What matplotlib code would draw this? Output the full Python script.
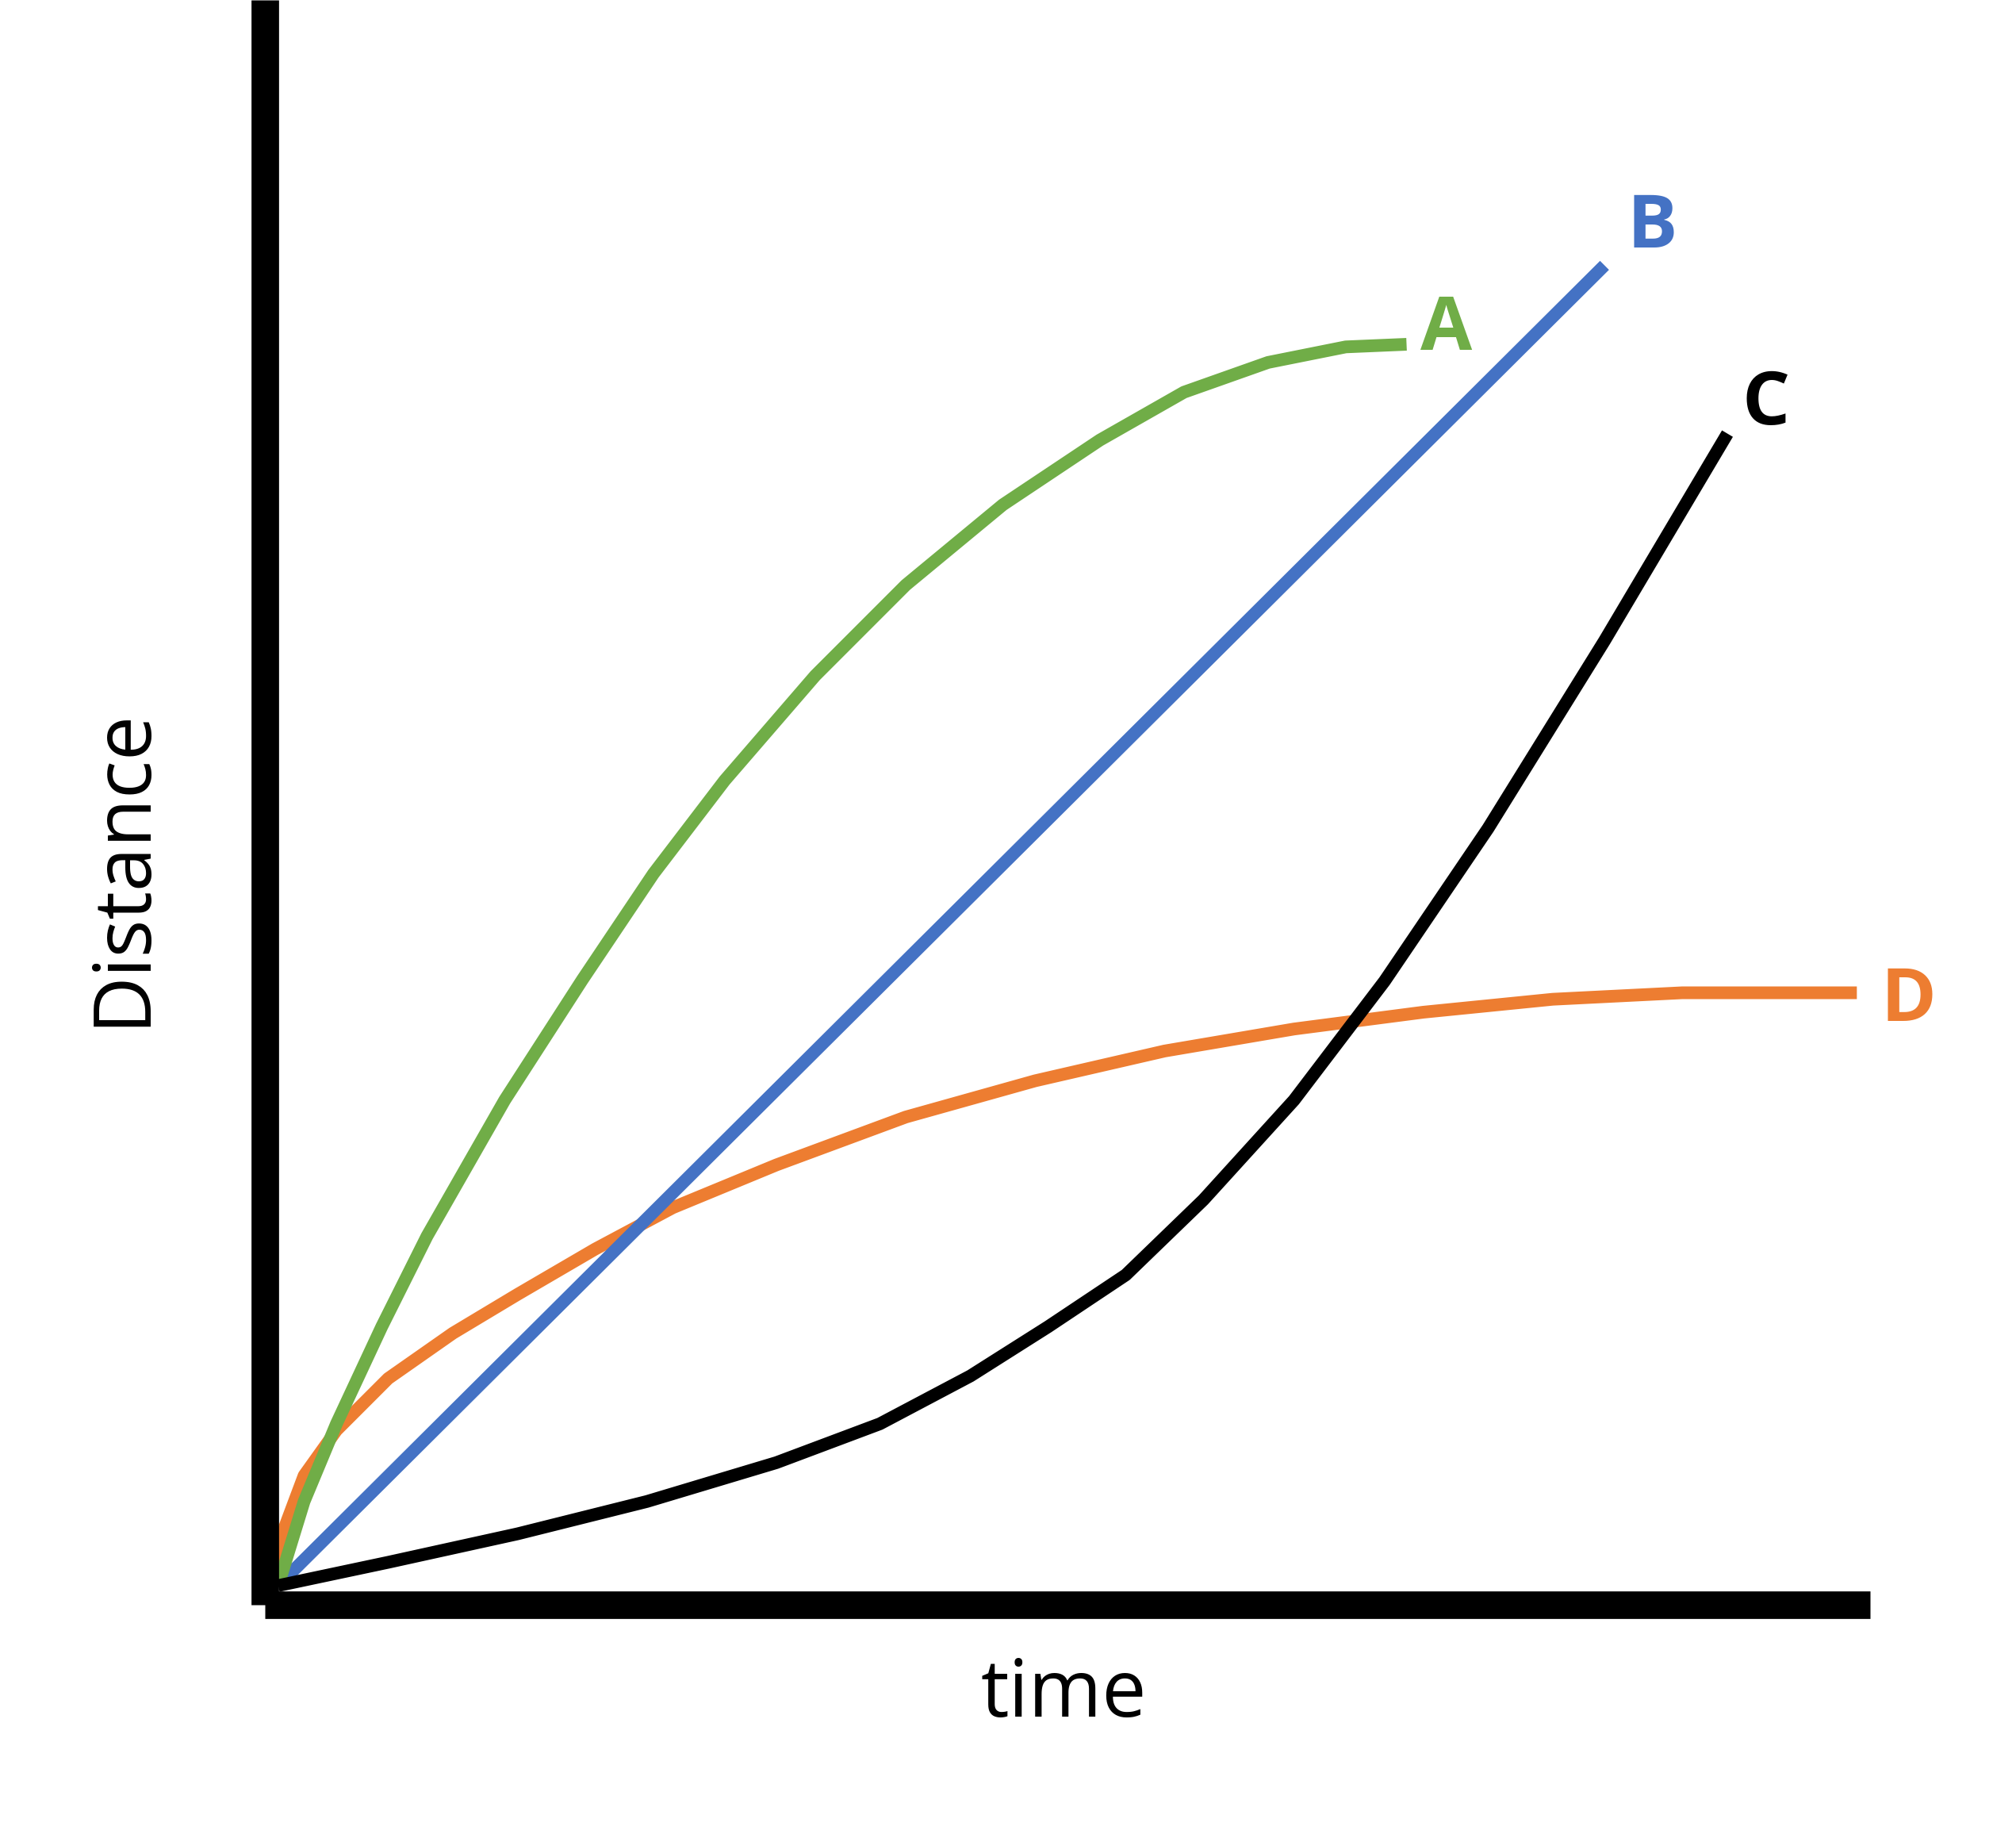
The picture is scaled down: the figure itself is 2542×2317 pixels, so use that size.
import matplotlib
matplotlib.use("Agg")
import matplotlib.pyplot as plt

a_x = [215, 235, 260, 295, 330, 390, 450, 505, 560, 630, 700, 775, 850, 915, 980, 1040, 1087]
a_y = [1225, 1160, 1100, 1025, 955, 850, 757, 675, 603, 522, 452, 390, 340, 303, 280, 268, 266]
b_x = [220, 1240]
b_y = [1220, 205]
c_x = [215, 300, 400, 500, 600, 680, 750, 810, 870, 930, 1000, 1070, 1150, 1240, 1335]
c_y = [1225, 1207, 1185, 1160, 1130, 1100, 1063, 1025, 985, 927, 850, 758, 640, 495, 335]
d_x = [215, 220, 235, 260, 300, 350, 400, 460, 520, 600, 700, 800, 900, 1000, 1100, 1200, 1300, 1435]
d_y = [1225, 1180, 1140, 1105, 1065, 1030, 1000, 965, 933, 900, 863, 835, 812, 795, 782, 772, 767, 767]

fig = plt.figure(figsize=(25.42, 23.17), dpi=100)
ax = fig.add_axes([0, 0, 1, 1])
ax.set_xlim(0, 1558)
ax.set_ylim(1420, 0)
ax.axis("off")

lw = 11.5
ax.plot(d_x, d_y, color="#ED7D31", lw=lw, solid_capstyle="butt")
ax.plot(b_x, b_y, color="#4472C4", lw=lw, solid_capstyle="butt")
ax.plot(a_x, a_y, color="#70AD47", lw=lw, solid_capstyle="butt")
ax.plot(c_x, c_y, color="black", lw=lw, solid_capstyle="butt")

ax.plot([205, 205], [0, 1240], color="black", lw=25, solid_capstyle="butt")
ax.plot([205, 1445], [1240, 1240], color="black", lw=25, solid_capstyle="butt")

fam = ["Open Sans", "DejaVu Sans"]
ax.text(1118, 255, "A", color="#70AD47", fontsize=68, fontweight="bold", family=fam, ha="center", va="center")
ax.text(1277, 176, "B", color="#4472C4", fontsize=68, fontweight="bold", family=fam, ha="center", va="center")
ax.text(1365, 313, "C", color="black", fontsize=68, fontweight="bold", family=fam, ha="center", va="center")
ax.text(1475, 774, "D", color="#ED7D31", fontsize=68, fontweight="bold", family=fam, ha="center", va="center")
ax.text(822, 1310, "time", color="black", fontsize=72, family=fam, ha="center", va="center")
ax.text(95, 670, "Distance", color="black", fontsize=72, family=fam, ha="center", va="center", rotation=90)

fig.savefig("out.png", dpi=100, facecolor="white")
